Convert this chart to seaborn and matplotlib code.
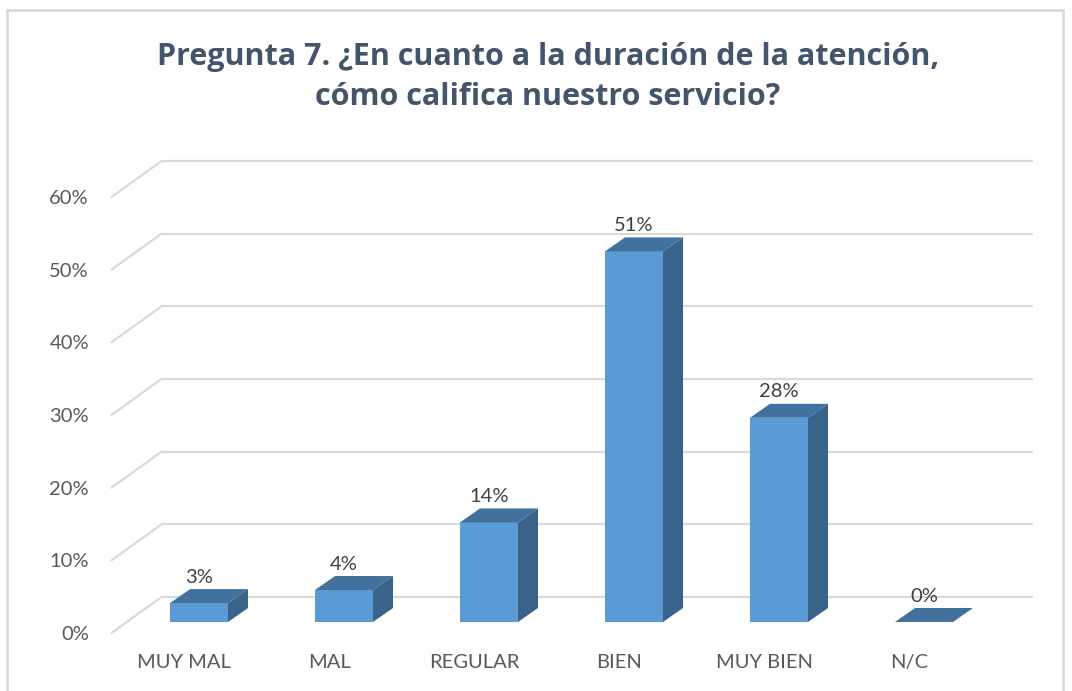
import seaborn as sns
import pandas as pd
import numpy as np
import matplotlib.pyplot as plt
import matplotlib.transforms as mtransforms
from matplotlib.patches import Polygon, Rectangle

# data
categories = ["MUY MAL", "MAL", "REGULAR", "BIEN", "MUY BIEN", "N/C"]
values = [0.026, 0.044, 0.137, 0.510, 0.281, 0.0]
yticks = [0, 0.1, 0.2, 0.3, 0.4, 0.5, 0.6]
title = "Pregunta 7. ¿En cuanto a la duración de la atención,\ncómo califica nuestro servicio?"

W, H, DPI = 1072, 691, 100
FRONT = "#5B9BD5"
TOP = "#41719C"
SIDE = "#3A6389"
GRID = "#D9D9D9"
TXT = "#595959"

sns.set_theme(style="white")
plt.rcParams['font.family'] = ['Lato', 'DejaVu Sans']

fig = plt.figure(figsize=(W / DPI, H / DPI), dpi=DPI)
# axes placed in pixels: data y=0 at px 622, y=0.6 at px 186
ax = fig.add_axes([126.5 / W, (H - 622) / H, 870 / W, 436 / H])

df = pd.DataFrame({"cat": categories, "val": values})
sns.barplot(data=df, x="cat", y="val", color=FRONT, saturation=1, width=0.4,
            ax=ax, zorder=3, edgecolor="none")
ax.set_xlim(-0.5, len(categories) - 0.5)
ax.set_ylim(0, 0.6)


def px(dx, dy):
    # offset in pixels (matplotlib y up)
    return mtransforms.ScaledTranslation(dx / DPI, dy / DPI, fig.dpi_scale_trans)


# perspective grid: back wall + left floor diagonal
back = ax.transData + px(35, 25)
front = ax.transData + px(-15, -11)
x0, x1 = ax.get_xlim()
for v in yticks:
    ax.plot([x0, x1], [v, v], transform=back, color=GRID, lw=1.6, zorder=0, clip_on=False)
    p0 = back.transform((x0, v))
    p1 = front.transform((x0, v))
    ax.plot([p0[0], p1[0]], [p0[1], p1[1]], transform=None, color=GRID, lw=1.6,
            zorder=0, clip_on=False)

# 3d top and side faces for each bar
dx, dy = 20, 14
for patch, v in zip(ax.patches, values):
    bx, by = patch.get_x(), patch.get_y()
    bw, bh = patch.get_width(), patch.get_height()
    tl = ax.transData.transform((bx, by + bh))
    tr = ax.transData.transform((bx + bw, by + bh))
    br = ax.transData.transform((bx + bw, by))
    top = Polygon([tl, tr, tr + [dx, dy], tl + [dx, dy]], closed=True,
                  facecolor=TOP, edgecolor="none", transform=None, zorder=4)
    side = Polygon([br, tr, tr + [dx, dy], br + [dx, dy]], closed=True,
                   facecolor=SIDE, edgecolor="none", transform=None, zorder=4)
    ax.add_artist(side)
    ax.add_artist(top)
    ax.text(bx + bw / 2, by + bh, f"{v:.0%}", transform=ax.transData + px(0, 26),
            ha="center", va="center", fontsize=14.5, color="#404040", zorder=5)

# ticks
ax.set_yticks(yticks)
ax.set_yticklabels([f"{v:.0%}" for v in yticks])
ax.set_xlabel("")
ax.set_ylabel("")
ax.tick_params(axis="y", length=0, pad=27, labelsize=14.5, labelcolor=TXT)
ax.tick_params(axis="x", length=0, pad=23, labelsize=14.5, labelcolor=TXT)
for lab in ax.get_yticklabels():
    lab.set_transform(lab.get_transform() + px(0, -11))
for lab in ax.get_xticklabels():
    lab.set_transform(lab.get_transform() + px(-15, 0))
for s in ax.spines.values():
    s.set_visible(False)
ax.patch.set_alpha(0)

fig.text(548 / W, 1 - 77 / H, title, ha="center", va="center", fontsize=22,
         fontweight="bold", color="#44546A", linespacing=1.45,
         family=["Open Sans", "DejaVu Sans"])

# chart border
fig.patches.append(Rectangle((7 / W, -0.05), (1063 - 7) / W, 1.05 - 10 / H,
                             transform=fig.transFigure, fill=False,
                             edgecolor=GRID, lw=2))

fig.savefig("out.png", dpi=DPI)
